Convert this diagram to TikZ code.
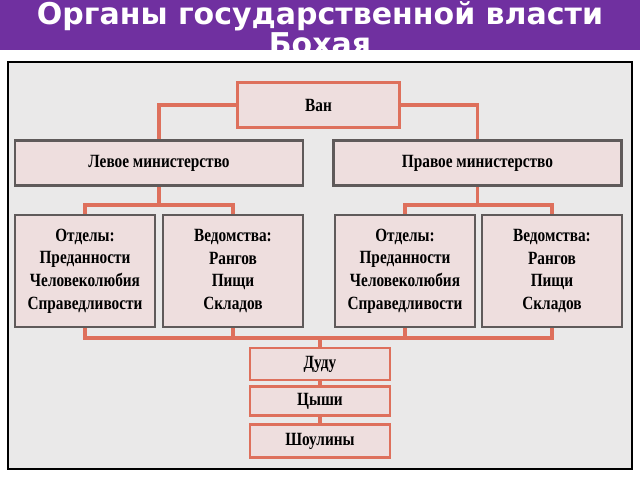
\documentclass[tikz,border=0pt]{standalone}
\usepackage{fontspec}
\setmainfont{Liberation Serif}[FakeStretch=0.82]
\newfontfamily\titlefont{DejaVu Sans}
\begin{document}
\begin{tikzpicture}[x=0.75pt,y=-0.75pt]

    % Colors
    \definecolor{header}{RGB}{112,48,160} % purple
    \definecolor{paper}{RGB}{234,233,233} % scanned page
    \definecolor{redline}{RGB}{222,112,92} % red border
    \definecolor{greyline}{RGB}{95,90,90} % dark border
    \definecolor{boxfill}{RGB}{238,222,222} % pink fill

    \tikzset{
        box/.style={draw=#1, line width=2.2pt, fill=boxfill, align=center,
            font=\bfseries\fontsize{14}{17}\selectfont, inner sep=0pt},
        link/.style={draw=redline, line width=2.4pt}
    }

    % Page size
    \useasboundingbox (0,0) rectangle (640,480);
    \fill[white] (0,0) rectangle (640,480);

    % Frame with the scanned page
    \draw[fill=paper, line width=2pt] (8,62) rectangle (632,469);

    % Header bar
    \fill[header] (0,0) rectangle (640,50);
    \node[text=white, font=\titlefont\bfseries\fontsize{22.5}{21}\selectfont, align=center]
        (title) at (320,28) {Органы государственной власти\\Бохая};

    % King and ministries
    \node[box=redline, minimum width=122pt, minimum height=34pt] (van) at (318.5,105) {Ван};
    \node[box=greyline, minimum width=216pt, minimum height=34pt] (leftmin) at (159,163) {Левое министерство};
    \node[box=greyline, minimum width=216pt, minimum height=34pt] (rightmin) at (477.5,163) {Правое министерство};

    % Departments
    \node[box=greyline, minimum width=105pt, minimum height=84pt] (lotd) at (85,271) {Отделы:\\Преданности\\Человеколюбия\\Справедливости};
    \node[box=greyline, minimum width=105pt, minimum height=84pt] (lved) at (233,271) {Ведомства:\\Рангов\\Пищи\\Складов};
    \node[box=greyline, minimum width=105pt, minimum height=84pt] (rotd) at (405,271) {Отделы:\\Преданности\\Человеколюбия\\Справедливости};
    \node[box=greyline, minimum width=105pt, minimum height=84pt] (rved) at (552,271) {Ведомства:\\Рангов\\Пищи\\Складов};

    % Lower offices
    \node[box=redline, minimum width=105pt, minimum height=24pt] (dudu) at (320,364) {Дуду};
    \node[box=redline, minimum width=105pt, minimum height=22pt] (cyshi) at (320,401) {Цыши};
    \node[box=redline, minimum width=105pt, minimum height=25pt] (shouliny) at (320,441) {Шоулины};

    % Connectors
    \coordinate (top) at (320,205);
    \coordinate (bus) at (320,338);
    \draw[link] (van.west) -| (leftmin.north);
    \draw[link] (van.east) -| (rightmin.north);
    \draw[link] (leftmin.south) |- (lotd.north |- top) -- (lotd.north);
    \draw[link] (leftmin.south |- top) -| (lved.north);
    \draw[link] (rightmin.south) |- (rotd.north |- top) -- (rotd.north);
    \draw[link] (rightmin.south |- top) -| (rved.north);
    \draw[link] (lotd.south) |- (rved.south |- bus) -- (rved.south);
    \draw[link] (lved.south) -- (lved.south |- bus);
    \draw[link] (rotd.south) -- (rotd.south |- bus);
    \draw[link] (bus) -- (dudu.north);
    \draw[link] (dudu.south) -- (cyshi.north);
    \draw[link] (cyshi.south) -- (shouliny.north);

\end{tikzpicture}
\end{document}
